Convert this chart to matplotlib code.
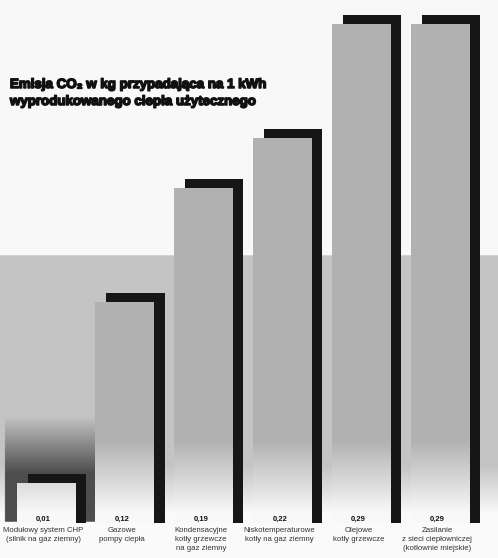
import numpy as np
import matplotlib.pyplot as plt
import matplotlib.patheffects as pe
from matplotlib.colors import LinearSegmentedColormap

# Emisja CO2 [kg/kWh] dla poszczególnych źródeł ciepła
zrodla = [
    'Modułowy system CHP\n(silnik na gaz ziemny)',
    'Gazowe\npompy ciepła',
    'Kondensacyjne\nkotły grzewcze\nna gaz ziemny',
    'Niskotemperaturowe\nkotły na gaz ziemny',
    'Olejowe\nkotły grzewcze',
    'Zasilanie\nz sieci ciepłowniczej\n(kotłownie miejskie)',
]
emisja = [0.01, 0.12, 0.19, 0.22, 0.29, 0.29]
etykiety = ['0,01', '0,12', '0,19', '0,22', '0,29', '0,29']

fig = plt.figure(figsize=(4.98, 5.58), dpi=100)
ax = fig.add_axes([0, 0, 1, 1])
xmin, xmax = -0.58, 5.74
ymin, ymax = -0.036, 0.3045
ax.set_xlim(xmin, xmax)
ax.set_ylim(ymin, ymax)
ax.axis('off')

szary = LinearSegmentedColormap.from_list('szary', ['#1c1c1c', '#ffffff'])

# tło - szary pas za słupkami, jaśniejszy u dołu
yy = np.linspace(ymin, ymax, 400)[:, None]
xx = np.linspace(xmin, xmax, 300)[None, :]
tlo = np.where(yy > 0.149, 0.97, 0.74)
tlo = np.where(yy < 0.02, 0.74 + (0.02 - yy) / 0.03 * 0.24, tlo)
tlo = np.clip(tlo + 0 * xx, 0, 0.98)
# ciemniejsza plama przy pierwszym słupku
plama = (xx > -0.52) & (xx < 0.65) & (yy < 0.05) & (yy > -0.0145)
tlo = np.where(plama, np.minimum(tlo, 0.74 - (0.05 - yy) / 0.033 * 0.5), tlo)
tlo = np.clip(tlo, 0.22, 0.98)
ax.imshow(tlo, extent=[xmin, xmax, ymin, ymax], origin='lower', aspect='auto',
          cmap=szary, vmin=0, vmax=1, zorder=0)

x = np.arange(len(emisja))
szer = 0.74
dno = -0.0145

# cień słupków (przesunięty w prawo i w górę)
ax.bar(x + 0.14, np.array(emisja) + 0.0055 - dno, bottom=dno, width=szer,
       color='#161616', zorder=2)

# przednie ściany słupków z przejściem do bieli przy podstawie
front = ax.bar(x, np.array(emisja) - dno, bottom=dno, width=szer,
               color='none', zorder=3)
grad = np.clip(0.66 + (0.035 - yy) / 0.045 * 0.32, 0.66, 0.97)
for p in front:
    im = ax.imshow(grad, extent=[xmin, xmax, ymin, ymax], origin='lower',
                   aspect='auto', cmap=szary, vmin=0, vmax=1, zorder=3)
    im.set_clip_path(p)

for xi, et, opis in zip(x, etykiety, zrodla):
    ax.text(xi - 0.03, -0.0125, et, ha='center', va='center', fontsize=5.5,
            fontweight='bold', color='#111111', family='Liberation Sans', zorder=5)
    ax.text(xi - 0.03, -0.0168, opis, ha='center', va='top', fontsize=5.6,
            color='#333333', family='Liberation Sans', linespacing=1.45, zorder=5)

gruby = [pe.withStroke(linewidth=1.1, foreground='#111111')]
fig.text(0.02, 1 - 85 / 558, 'Emisja CO₂ w kg przypadająca na 1 kWh',
         ha='left', va='center', fontsize=9.6, fontweight='bold', color='#111111',
         family=['Liberation Sans', 'DejaVu Sans'], path_effects=gruby)
fig.text(0.02, 1 - 102 / 558, 'wyprodukowanego ciepła użytecznego',
         ha='left', va='center', fontsize=9.6, fontweight='bold', color='#111111',
         family=['Liberation Sans', 'DejaVu Sans'], path_effects=gruby)

fig.savefig('out.png', dpi=100)
